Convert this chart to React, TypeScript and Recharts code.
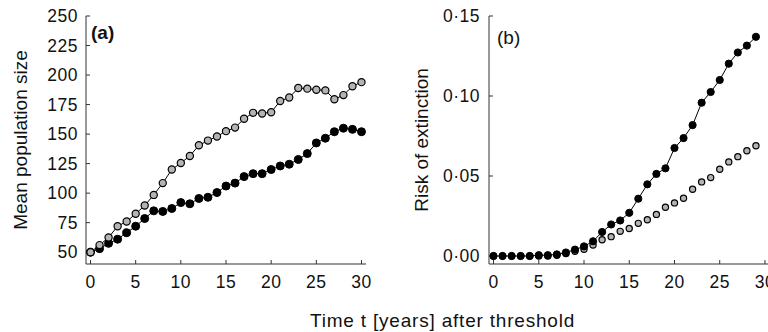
import React from 'react';
import { LineChart, Line, XAxis, YAxis, Label } from 'recharts';

// Time (years after threshold)
const yearsA = [0,1,2,3,4,5,6,7,8,9,10,11,12,13,14,15,16,17,18,19,20,21,22,23,24,25,26,27,28,29,30];
const yearsB = [0,1,2,3,4,5,6,7,8,9,10,11,12,13,14,15,16,17,18,19,20,21,22,23,24,25,26,27,28,29];

// Panel (a): mean population size
const popGrey = [50,56,62.5,72,76,82.5,89.5,98.5,108.5,120,125.5,131.5,140.5,144.5,148,152.5,155.5,163,168,167.5,168.5,178,181,189,188.5,187.5,187,179.5,183,190.5,194];
const popBlack = [50,53,57.5,61,66.5,72,78.5,85,84.5,87,92,91,95.5,96.5,100.5,106,108.5,114,116.5,116.5,120,123,124.5,128.5,133.5,142.5,146.5,152,155,154,152];

// Panel (b): risk of extinction
const riskBlack = [0,0,0,0,0,0.0005,0.0005,0.001,0.0022,0.004,0.006,0.0092,0.015,0.0197,0.0222,0.027,0.0358,0.0448,0.0513,0.0548,0.0675,0.0737,0.0818,0.0958,0.1025,0.11,0.1202,0.1272,0.1315,0.137];
const riskGrey = [0,0,0,0,0,0,0,0.0005,0.0015,0.003,0.0042,0.0068,0.0102,0.0121,0.0154,0.0172,0.0204,0.0227,0.026,0.0305,0.0332,0.0361,0.0417,0.0463,0.049,0.0542,0.0588,0.0621,0.0658,0.0689];

const xTicks = [0,5,10,15,20,25,30];
const popTicks = [50,75,100,125,150,175,200,225,250];
const riskTicks = [0,0.05,0.1,0.15];

const dataA = yearsA.map((t, i) => ({ t, grey: popGrey[i], black: popBlack[i] }));
const dataB = yearsB.map((t, i) => ({ t, grey: riskGrey[i], black: riskBlack[i] }));

const FONT = '"Liberation Sans", Arial, sans-serif';
const tickStyle = { fontSize: 17.5, fill: '#111', fontFamily: FONT, letterSpacing: 0.5 };
const axisLine = { stroke: '#333', strokeWidth: 1 };
const GREY = '#b4b4b4';

const fmtRisk = (v: number) => v.toFixed(2).replace('.', '\u00b7');

export default function App() {
  return (
    <div style={{ position: 'absolute', left: 0, top: 0, width: 768, height: 332, overflow: 'hidden', background: '#fff', fontFamily: FONT }}>
      <div style={{ position: 'absolute', left: 0, top: 0 }}>
        <LineChart width={384} height={332} data={dataA} margin={{ top: 16, right: 18, bottom: 38, left: 0 }}>
          <XAxis dataKey="t" type="number" domain={[-0.5, 30.5]} ticks={xTicks} height={30}
            tickSize={-4} tickMargin={16} tick={tickStyle} axisLine={axisLine} tickLine={axisLine} interval={0} />
          <YAxis type="number" domain={[40, 250]} ticks={popTicks} width={86}
            tickSize={-4} tickMargin={12} tick={tickStyle} axisLine={axisLine} tickLine={axisLine} interval={0}>
            <Label value="Mean population size" angle={-90} position="insideLeft" offset={20}
              style={{ textAnchor: 'middle', fontSize: 19, fill: '#111', fontFamily: FONT }} />
          </YAxis>
          <Line dataKey="black" stroke="#000" strokeWidth={1} isAnimationActive={false}
            dot={{ r: 4, fill: '#000', stroke: '#000', strokeWidth: 1 }} activeDot={false} />
          <Line dataKey="grey" stroke="#000" strokeWidth={1} isAnimationActive={false}
            dot={{ r: 3.6, fill: GREY, stroke: '#000', strokeWidth: 1.2 }} activeDot={false} />
        </LineChart>
      </div>
      <div style={{ position: 'absolute', left: 384, top: 0 }}>
        <LineChart width={390} height={332} data={dataB} margin={{ top: 16, right: 4.5, bottom: 38, left: 0 }}>
          <XAxis dataKey="t" type="number" domain={[-0.5, 30.5]} ticks={xTicks} height={30}
            tickSize={-4} tickMargin={16} tick={tickStyle} axisLine={axisLine} tickLine={axisLine} interval={0} />
          <YAxis type="number" domain={[-0.005, 0.15]} ticks={riskTicks} width={105} tickFormatter={fmtRisk}
            tickSize={-4} tickMargin={13} tick={tickStyle} axisLine={axisLine} tickLine={axisLine} interval={0}>
            <Label value="Risk of extinction" angle={-90} position="insideLeft" offset={37.5}
              style={{ textAnchor: 'middle', fontSize: 19, fill: '#111', fontFamily: FONT }} />
          </YAxis>
          <Line dataKey="grey" stroke="none" isAnimationActive={false}
            dot={{ r: 3.1, fill: GREY, stroke: '#000', strokeWidth: 1.2 }} activeDot={false} />
          <Line dataKey="black" stroke="#000" strokeWidth={1} isAnimationActive={false}
            dot={{ r: 3.6, fill: '#000', stroke: '#000', strokeWidth: 1 }} activeDot={false} />
        </LineChart>
      </div>
      <div style={{ position: 'absolute', left: 91, top: 23, fontSize: 19, lineHeight: '19px', fontWeight: 'bold', color: '#111' }}>(a)</div>
      <div style={{ position: 'absolute', left: 497, top: 28, fontSize: 19, lineHeight: '19px', color: '#111' }}>(b)</div>
      <div style={{ position: 'absolute', left: 310, top: 310.5, fontSize: 19, lineHeight: '19px', letterSpacing: 0.8, whiteSpace: 'nowrap', color: '#111' }}>Time t [years] after threshold</div>
    </div>
  );
}
